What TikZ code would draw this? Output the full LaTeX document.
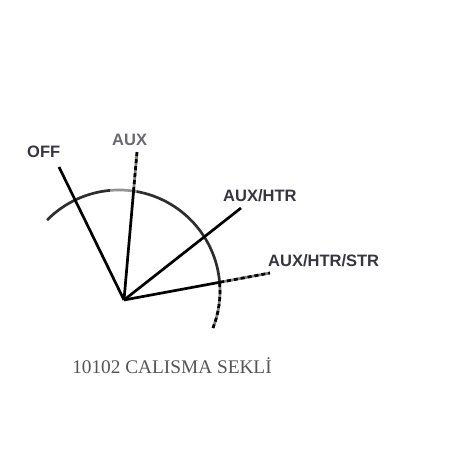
\documentclass[tikz,border=0pt]{standalone}
\usepackage{fontspec}
\usetikzlibrary{calc}
\newfontfamily\labfont{Liberation Sans}
\newfontfamily\captionfnt{Liberation Serif}
\definecolor{labdark}{HTML}{363640}
\definecolor{labgray}{HTML}{6A6A72}
\definecolor{capgray}{HTML}{555555}
\definecolor{arcgray}{HTML}{2E2E2E}
\tikzset{
  lbl/.style={anchor=base west,inner sep=0pt,font=\labfont\bfseries\fontsize{16.5}{18}\selectfont,text=labdark},
  pointer/.style={line width=2.7pt,black},
  dialarc/.style={line width=2.7pt,arcgray},
  brokenbase/.style={line width=2.7pt,black!50},
  brokendash/.style={line width=2.7pt,black,dash pattern=on 4pt off 3pt},
}
\begin{document}
\begin{tikzpicture}[x=1pt,y=1pt]
\useasboundingbox (0,0) rectangle (460,460);
% hub and pointer ends (image y flipped: y = 460 - py)
\coordinate (hub) at (124,160);
\coordinate (offend) at (59,293);
\coordinate (auxend) at (137,308);
\coordinate (htrend) at (241,252);
\coordinate (strend) at (270,187);
\coordinate (arccenter) at (119,169);
\coordinate (auxcross) at ($(hub)!0.736!(auxend)$);
\coordinate (strcross) at ($(hub)!0.658!(strend)$);
% dial arc
\draw[dialarc] (arccenter) ++(135.4:101) arc[start angle=135.4,end angle=95,radius=101];
\draw[line width=2.7pt,gray!85] (arccenter) ++(95:101) arc[start angle=95,end angle=80,radius=101];
\draw[dialarc] (arccenter) ++(80:101) arc[start angle=80,end angle=4.5,radius=101];
\draw[brokenbase] (arccenter) ++(4.5:101) arc[start angle=4.5,end angle=-21.5,radius=101];
\draw[brokendash] (arccenter) ++(4.5:101) arc[start angle=4.5,end angle=-21.5,radius=101];
% pointers
\draw[pointer] (hub) -- (offend);
\draw[pointer] (hub) -- (auxcross);
\draw[brokenbase] (auxcross) -- (auxend);
\draw[brokendash] (auxcross) -- (auxend);
\draw[pointer] (hub) -- (htrend);
\draw[pointer] (hub) -- (strcross);
\draw[brokenbase] (strcross) -- (strend);
\draw[brokendash] (strcross) -- (strend);
% labels
\node[lbl] (off) at (27,302) {OFF};
\node[lbl,text=labgray] (aux) at (112,314) {AUX};
\node[lbl] (htr) at (223,258) {AUX/HTR};
\node[lbl] (str) at (268,193) {AUX/HTR/STR};
\node[anchor=base,inner sep=0pt,font=\captionfnt\fontsize{19.3}{22}\selectfont,text=capgray] (caption) at (172,86) {10102 CALISMA SEKLİ};
\end{tikzpicture}
\end{document}
